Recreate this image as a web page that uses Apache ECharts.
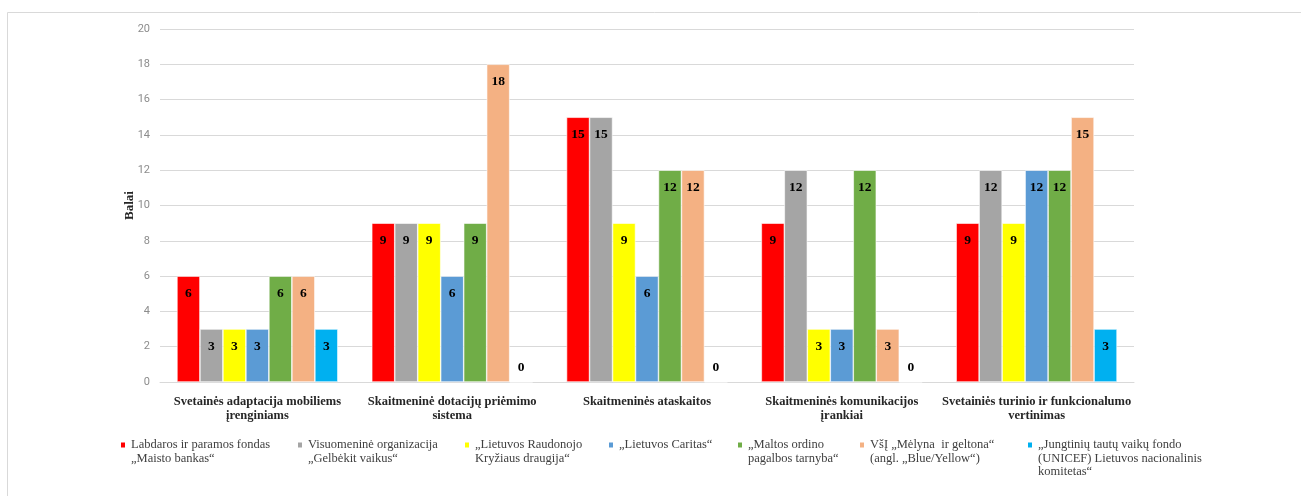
<!DOCTYPE html>
<html>
<head>
<meta charset="utf-8">
<script src="https://cdn.jsdelivr.net/npm/echarts@6/dist/echarts.min.js"></script>
<style>
html,body{margin:0;padding:0;background:#fff;}
#chart{width:1301px;height:496px;}
</style>
</head>
<body>
<div id="chart"></div>
<script>
const categories = [
  "Svetainės adaptacija mobiliems\nįrenginiams",
  "Skaitmeninė dotacijų priėmimo\nsistema",
  "Skaitmeninės ataskaitos",
  "Skaitmeninės komunikacijos\nįrankiai",
  "Svetainiės turinio ir funkcionalumo\nvertinimas"
];
const seriesNames = [
  "Labdaros ir paramos fondas „Maisto bankas“",
  "Visuomeninė organizacija „Gelbėkit vaikus“",
  "„Lietuvos Raudonojo Kryžiaus draugija“",
  "„Lietuvos Caritas“",
  "„Maltos ordino pagalbos tarnyba“",
  "VšĮ „Mėlyna ir geltona“ (angl. „Blue/Yellow“)",
  "„Jungtinių tautų vaikų fondo (UNICEF) Lietuvos nacionalinis komitetas“"
];
const legendLines = [
  "Labdaros ir paramos fondas\n„Maisto bankas“",
  "Visuomeninė organizacija\n„Gelbėkit vaikus“",
  "„Lietuvos Raudonojo\nKryžiaus draugija“",
  "„Lietuvos Caritas“",
  "„Maltos ordino\npagalbos tarnyba“",
  "VšĮ „Mėlyna  ir geltona“\n(angl. „Blue/Yellow“)",
  "„Jungtinių tautų vaikų fondo\n(UNICEF) Lietuvos nacionalinis\nkomitetas“"
];
const maistoBankas   = [6, 9, 15, 9, 9];
const gelbekitVaikus = [3, 9, 15, 12, 12];
const raudonasisKr   = [3, 9, 9, 3, 9];
const caritas        = [3, 6, 6, 3, 12];
const maltos         = [6, 9, 12, 12, 12];
const melynaGeltona  = [6, 18, 12, 3, 15];
const unicef         = [3, 0, 0, 0, 3];
const yTicks = { min: 0, max: 20, interval: 2 };

const allValues = [maistoBankas, gelbekitVaikus, raudonasisKr, caritas, maltos, melynaGeltona, unicef];
const colors = ['#FF0000', '#A5A5A5', '#FFFF00', '#5B9BD5', '#70AD47', '#F4B183', '#00B0F0'];
const legendLeft = [119, 296, 463, 607, 736, 858, 1026];

const serif = '"Liberation Serif","Times New Roman",serif';
const lh = 13.5;

const series = allValues.map((vals, i) => ({
  name: seriesNames[i],
  type: 'bar',
  barGap: '0%',
  barCategoryGap: '17.4%',
  itemStyle: { color: colors[i], borderColor: '#ffffff', borderWidth: 0.6 },
  label: {
    show: true,
    position: 'insideTop',
    distance: 10,
    fontFamily: serif,
    fontWeight: 'bold',
    fontSize: 13.5,
    color: '#000000'
  },
  data: vals.map(v => v === 0 ? { value: v, label: { position: 'top', distance: 7 } } : v)
}));

const legends = seriesNames.map((name, i) => {
  const n = legendLines[i].split('\n').length;
  const H = (2 * n - 1) * lh;
  return {
    data: [name],
    left: legendLeft[i],
    top: 445 - H / 2,
    padding: 0,
    icon: 'rect',
    itemWidth: 6,
    itemHeight: 7,
    selectedMode: false,
    formatter: () => '\n'.repeat(n - 1) + legendLines[i],
    textStyle: {
      fontFamily: serif,
      fontSize: 12.5,
      color: '#404040',
      lineHeight: lh
    }
  };
});

const chart = echarts.init(document.getElementById('chart'), null, { renderer: 'canvas' });
chart.setOption({
  animation: false,
  backgroundColor: '#ffffff',
  color: colors,
  graphic: [{
    type: 'rect',
    shape: { x: 7.5, y: 12.5, width: 1320, height: 520 },
    style: { fill: 'none', stroke: '#d9d9d9', lineWidth: 1 },
    silent: true,
    z: -1
  }],
  legend: legends,
  grid: { left: 160, right: 167, top: 29, bottom: 114, containLabel: false },
  xAxis: {
    type: 'category',
    data: categories,
    axisTick: { show: false },
    axisLine: { lineStyle: { color: '#d9d9d9', width: 1 } },
    axisLabel: {
      interval: 0,
      margin: 13,
      fontFamily: serif,
      fontWeight: 'bold',
      fontSize: 12.5,
      lineHeight: 14,
      color: '#262626'
    }
  },
  yAxis: {
    type: 'value',
    min: yTicks.min,
    max: yTicks.max,
    interval: yTicks.interval,
    name: 'Balai',
    nameLocation: 'middle',
    nameGap: 24,
    nameMoveOverlap: false,
    nameRotate: 90,
    nameTextStyle: { fontFamily: serif, fontWeight: 'bold', fontSize: 13, color: '#262626' },
    axisLine: { show: false },
    axisTick: { show: false },
    splitLine: { lineStyle: { color: '#d9d9d9', width: 1 } },
    axisLabel: { fontFamily: 'Roboto, "Liberation Sans", sans-serif', fontSize: 11, color: '#8c8c8c', margin: 10 }
  },
  series: series
});
</script>
</body>
</html>
